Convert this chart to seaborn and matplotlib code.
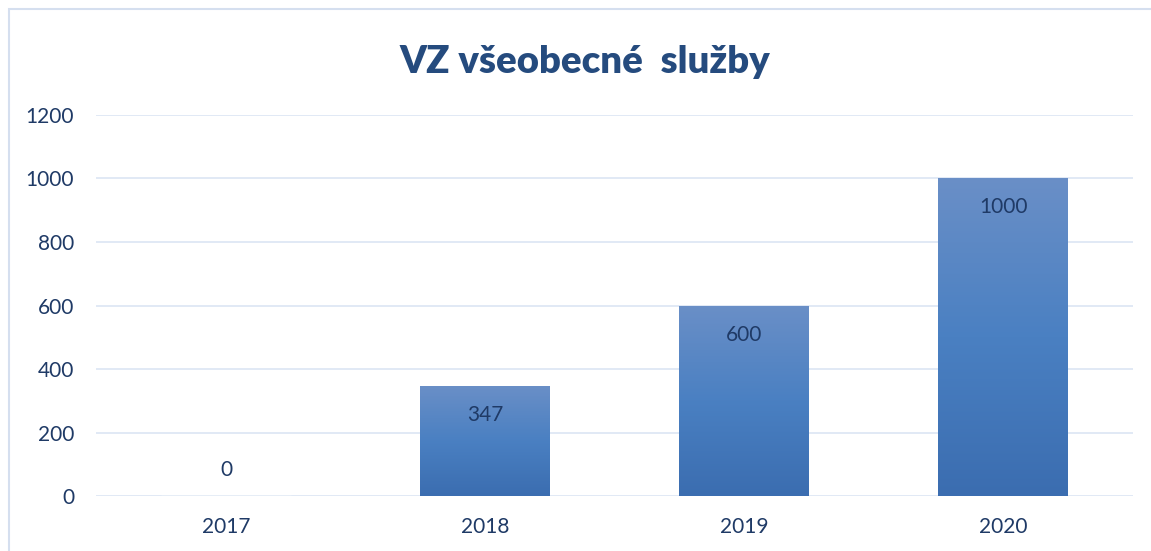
import numpy as np
import pandas as pd
import matplotlib
matplotlib.use("Agg")
import matplotlib.pyplot as plt
import seaborn as sns
from matplotlib.colors import LinearSegmentedColormap
from matplotlib.patches import Rectangle

years = ["2017", "2018", "2019", "2020"]
values = [0, 347, 600, 1000]
yticks = [0, 200, 400, 600, 800, 1000, 1200]
title = "VZ všeobecné  služby"

sns.set_theme(style="white")
plt.rcParams['font.family'] = ['Lato', 'DejaVu Sans']

df = pd.DataFrame({"year": years, "value": values})

fig = plt.figure(figsize=(11.51, 5.51), dpi=100)
ax = fig.add_axes([0.0838, 0.0998, 0.9002, 0.6915])

sns.barplot(data=df, x="year", y="value", ax=ax, color="#4A7CC0", width=0.5,
            saturation=1, zorder=2)

ax.set_ylim(0, 1200)
ax.set_yticks(yticks)
ax.set_xlim(-0.5, len(years) - 0.5)
ax.grid(axis="y", color="#D9E3F3", linewidth=1.1, zorder=0)
ax.set_axisbelow(True)
for s in ax.spines.values():
    s.set_visible(False)
ax.set_xlabel("")
ax.set_ylabel("")
ax.tick_params(axis="both", length=0, labelsize=15, labelcolor="#1F3A66")
ax.tick_params(axis="y", pad=16)
ax.tick_params(axis="x", pad=15)

# gradient fill
cmap = LinearSegmentedColormap.from_list("g", ["#3B6DB0", "#4A80C2", "#6A8FC7"])
grad = np.linspace(0, 1, 256).reshape(-1, 1)
for p in list(ax.patches):
    x0, y0 = p.get_x(), p.get_y()
    w, h = p.get_width(), p.get_height()
    if h <= 0:
        continue
    p.set_alpha(0)
    im = ax.imshow(grad, cmap=cmap, aspect="auto", origin="lower",
                   extent=[x0, x0 + w, y0, y0 + h], zorder=2.5)
    clip = Rectangle((x0, y0), w, h, transform=ax.transData)
    im.set_clip_path(clip)
ax.set_xlim(-0.5, len(years) - 0.5)
ax.set_ylim(0, 1200)

for i, v in enumerate(values):
    off = 26 if v == 0 else -29
    ax.annotate(str(v), (i, v), xytext=(0, off), textcoords="offset pixels",
                ha="center", va="center", fontsize=15, color="#1F3A66", zorder=5)

fig.text(0.508, 0.888, title, ha="center", va="center", fontsize=27.5,
         fontweight="heavy", color="#254B7E")

border = Rectangle((8.5 / 1151, -0.1), 1.2, 1.1 - 9.5 / 551, transform=fig.transFigure,
                   fill=False, edgecolor="#D5DFEF", linewidth=1.5)
fig.add_artist(border)

fig.savefig("out.png", dpi=100)
